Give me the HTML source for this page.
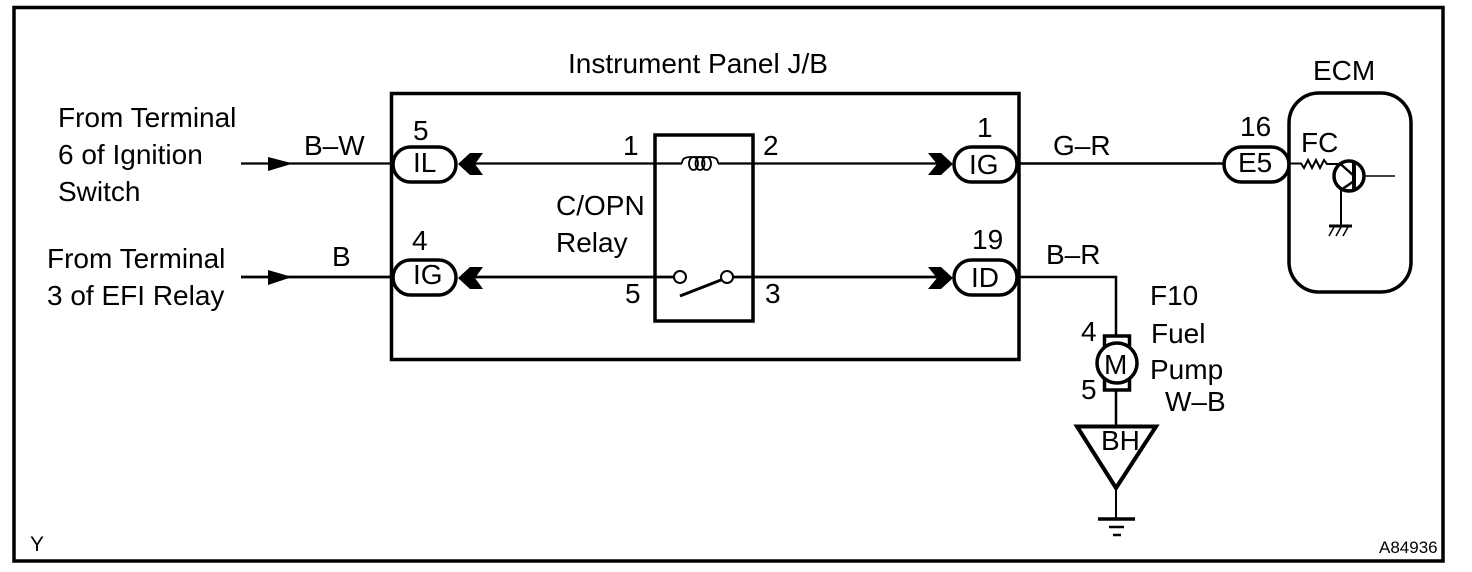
<!DOCTYPE html>
<html><head><meta charset="utf-8"><style>
html,body{margin:0;padding:0;background:#fff}
svg{display:block}
text{font-family:"Liberation Sans",Arial,sans-serif;font-size:28px;fill:#000}
</style></head><body>
<svg width="1472" height="572" viewBox="0 0 1472 572" xmlns="http://www.w3.org/2000/svg">
<rect width="1472" height="572" fill="#fff"/>
<rect x="14" y="7.500" width="1429" height="553.500" fill="none" stroke="#000" stroke-width="3.500"/>
<rect x="391.500" y="93.500" width="627.500" height="266" fill="none" stroke="#000" stroke-width="3.500"/>
<g stroke="#000" fill="none">
<path d="M241 163.500H392" stroke-width="2.200"/>
<path d="M241 277H392" stroke-width="2.800"/>
<path d="M470 163.500H682M718 163.500H940" stroke-width="2.200"/>
<path d="M470 277H674M733 277H940" stroke-width="2.800"/>
<path d="M1019 163.500H1224M1019 277H1116V335" stroke-width="2.500"/>
<path d="M1116 391V426" stroke-width="2.500"/>
<path d="M1116 490V518" stroke-width="2"/>
</g>
<path d="M268 157L293 163.500L268 171ZM268 270L292 277L268 285Z" fill="#000"/>
<path d="M458 164L470 153H483L475 164L483 175H470ZM458 278L470 267H483L475 278L483 289H470Z" fill="#000"/>
<path d="M928 153H941L953 164L941 175H928L937 164ZM928 267H941L953 278L941 289H928L937 278Z" fill="#000"/>
<g fill="#fff" stroke="#000" stroke-width="3.500">
<rect x="393" y="147" width="63" height="35" rx="17.500"/>
<rect x="393" y="260" width="63" height="35" rx="17.500"/>
<rect x="954" y="147" width="63" height="35" rx="17.500"/>
<rect x="954" y="260" width="63" height="35" rx="17.500"/>
<rect x="1224" y="147" width="65" height="35" rx="17.500"/>
<rect x="1289" y="93" width="122" height="199" rx="30"/>
</g>
<rect x="655" y="135" width="98" height="186" fill="none" stroke="#000" stroke-width="3.500"/>
<path d="M682 163.500C682 158 686 157 691 157H709C714 157 718 158 718 163.500" fill="none" stroke="#000" stroke-width="1.800"/>
<ellipse cx="693.500" cy="163.500" rx="4.500" ry="6.500" fill="none" stroke="#000" stroke-width="1.800"/>
<ellipse cx="700" cy="163.500" rx="4.500" ry="6.500" fill="none" stroke="#000" stroke-width="1.800"/>
<ellipse cx="706.500" cy="163.500" rx="4.500" ry="6.500" fill="none" stroke="#000" stroke-width="1.800"/>
<circle cx="680" cy="277" r="6" fill="#fff" stroke="#000" stroke-width="2"/>
<circle cx="727" cy="277" r="6" fill="#fff" stroke="#000" stroke-width="2"/>
<path d="M680 296L721 280" stroke="#000" stroke-width="3"/>
<path d="M1290 163.500H1301L1304 168L1308 160L1312 168L1316 160L1320 168L1324 160L1327 164H1340" fill="none" stroke="#000" stroke-width="2"/>
<circle cx="1349" cy="176" r="15" fill="none" stroke="#000" stroke-width="3.500"/>
<path d="M1354 161V191" stroke="#000" stroke-width="4"/>
<path d="M1340 163.500L1354 176M1354 181L1341 190" stroke="#000" stroke-width="2.500" fill="none"/>
<path d="M1364 176H1395" stroke="#000" stroke-width="1.500"/>
<path d="M1341 190V226" stroke="#000" stroke-width="2"/>
<path d="M1329 226H1352" stroke="#000" stroke-width="3"/>
<path d="M1334 227L1329 236M1341 227L1336 236M1348 227L1343 236" stroke="#000" stroke-width="1.500"/>
<rect x="1104.500" y="336" width="25" height="54" fill="#fff" stroke="#000" stroke-width="3.500"/>
<circle cx="1117" cy="363" r="20" fill="#fff" stroke="#000" stroke-width="3.500"/>
<path d="M1077 426.500H1156L1116 488Z" fill="#fff" stroke="#000" stroke-width="4"/>
<path d="M1098 519H1135" stroke="#000" stroke-width="3.500"/>
<path d="M1109 527H1124" stroke="#000" stroke-width="2.500"/>
<path d="M1113 535H1121" stroke="#000" stroke-width="2.500"/>
<text x="568" y="73">Instrument Panel J/B</text>
<text x="1313" y="80">ECM</text>
<text x="58" y="127">From Terminal</text>
<text x="58" y="164">6 of Ignition</text>
<text x="58" y="201">Switch</text>
<text x="47" y="268">From Terminal</text>
<text x="47" y="305">3 of EFI Relay</text>
<text x="304" y="155">B–W</text>
<text x="332" y="266">B</text>
<text x="413" y="140">5</text>
<text x="412" y="250">4</text>
<text x="413" y="172">IL</text>
<text x="413" y="284">IG</text>
<text x="623" y="155">1</text>
<text x="763" y="155">2</text>
<text x="625" y="303">5</text>
<text x="765" y="303">3</text>
<text x="556" y="215">C/OPN</text>
<text x="556" y="252">Relay</text>
<text x="977" y="137">1</text>
<text x="972" y="249">19</text>
<text x="969" y="174">IG</text>
<text x="971" y="287">ID</text>
<text x="1053" y="155">G–R</text>
<text x="1046" y="264">B–R</text>
<text x="1240" y="136">16</text>
<text x="1238" y="172">E5</text>
<text x="1301" y="152">FC</text>
<text x="1150" y="305">F10</text>
<text x="1151" y="343">Fuel</text>
<text x="1150" y="379">Pump</text>
<text x="1165" y="411">W–B</text>
<text x="1081" y="341">4</text>
<text x="1081" y="399">5</text>
<text x="1104" y="374">M</text>
<text x="1101" y="450">BH</text>
<text x="30" y="551" style="font-size:21px">Y</text>
<text x="1379" y="553" style="font-size:17px">A84936</text>
</svg>
</body></html>
